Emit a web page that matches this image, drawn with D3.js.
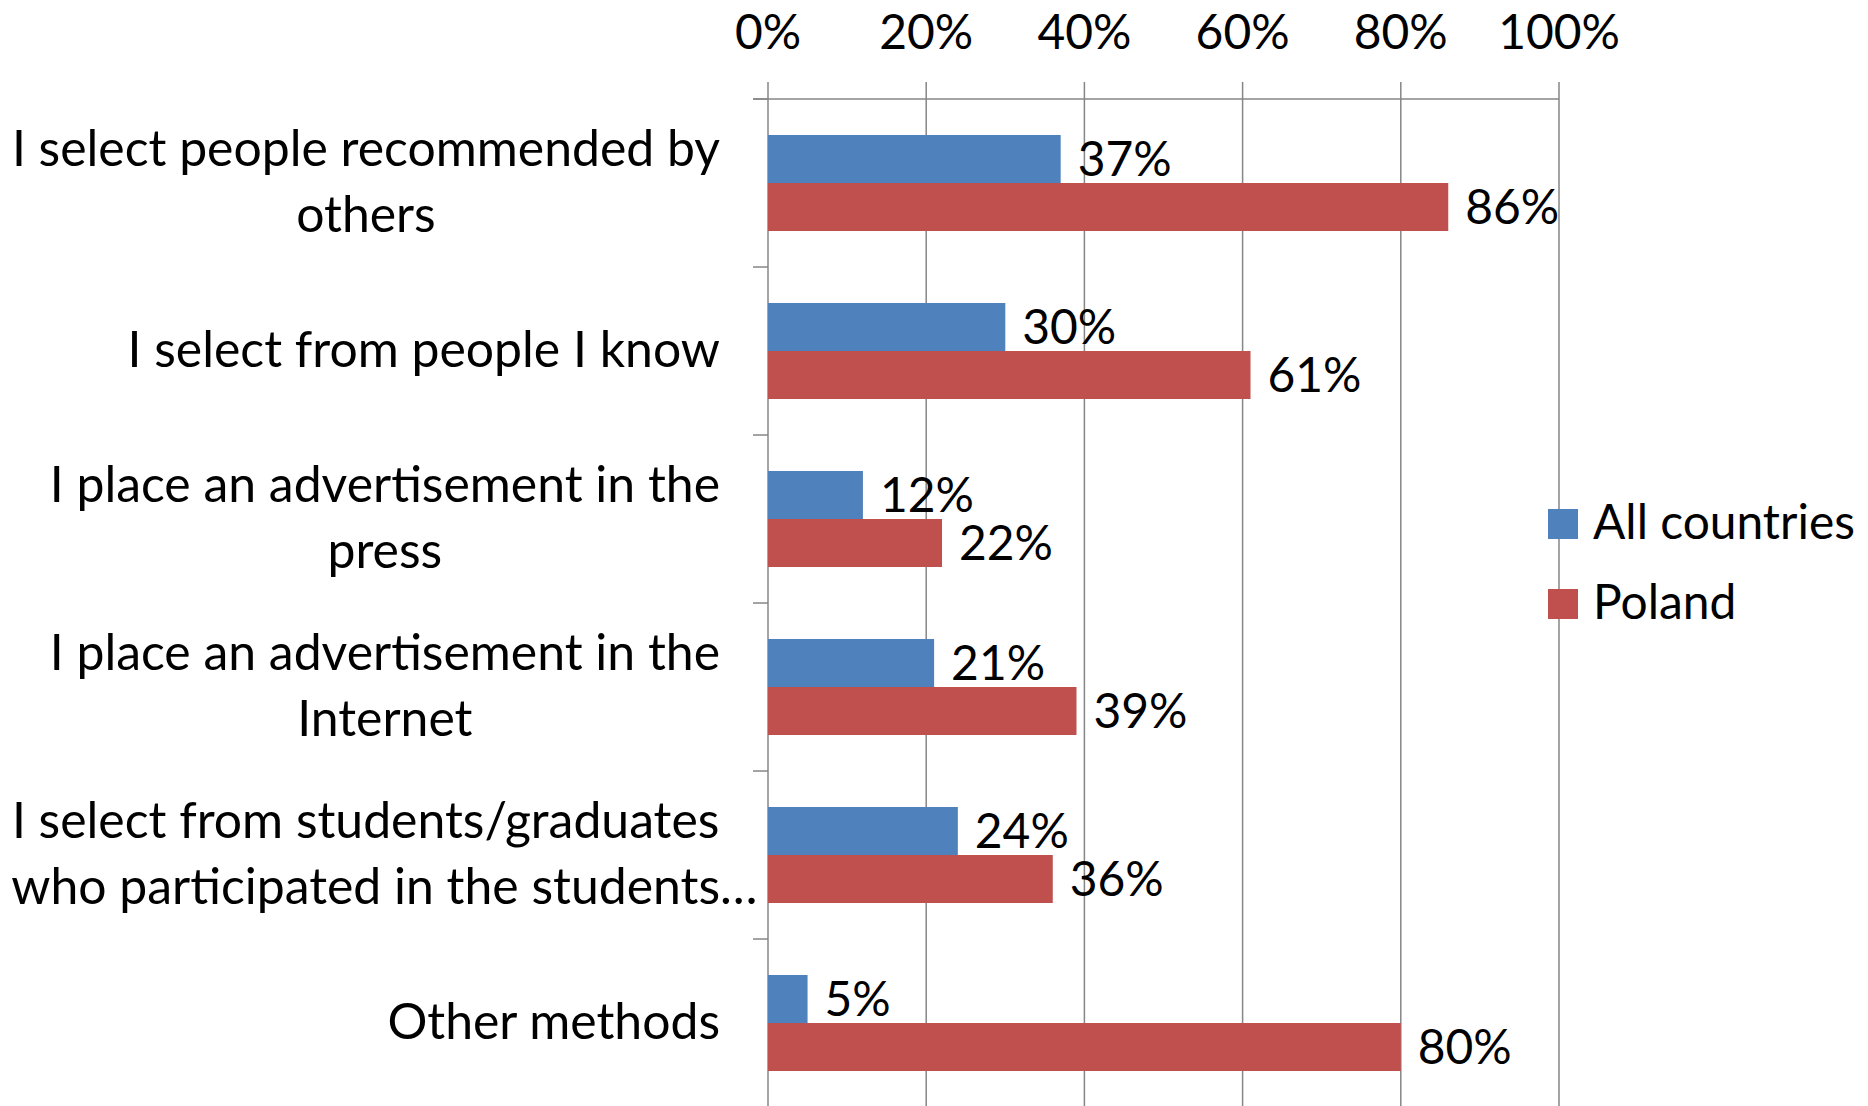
<!DOCTYPE html>
<html>
<head>
<meta charset="utf-8">
<script src="https://cdn.jsdelivr.net/npm/d3@7"></script>
<style>
  html, body { margin: 0; padding: 0; background: #fff; }
  svg { display: block; }
  text { font-family: Lato, "Open Sans", sans-serif; fill: #000; }
</style>
</head>
<body>
<svg id="chart" width="1868" height="1106"></svg>
<script>
// ---- data ----
const categories = [
  "I select people recommended by\nothers",
  "I select from people I know",
  "I place an advertisement in the\npress",
  "I place an advertisement in the\nInternet",
  "I select from students/graduates\nwho participated in the students…",
  "Other methods"
];
const seriesNames = ["All countries", "Poland"];
const allCountries = [37, 30, 12, 21, 24, 5];
const poland = [86, 61, 22, 39, 36, 80];
const tickValues = [0, 20, 40, 60, 80, 100];
const tickLabels = ["0%", "20%", "40%", "60%", "80%", "100%"];
const colors = ["#4F81BD", "#C0504D"];

// ---- layout ----
const W = 1868, H = 1106;
const plotLeft = 768, plotRight = 1559, plotTop = 99, plotBottom = 1107;
const svg = d3.select("#chart");

// font size fitted so the longest category line spans ~708px
const probe = svg.append("text").attr("font-size", 100).text("I select people recommended by");
const probeW = probe.node().getComputedTextLength();
probe.remove();
const fs = Math.round(100 * 708 / probeW * 10) / 10;
const fsNum = Math.round(fs * 0.96 * 10) / 10;

const x = d3.scaleLinear().domain([0, 100]).range([plotLeft, plotRight]);
const y = d3.scaleBand().domain(d3.range(categories.length))
  .range([plotTop, plotBottom]).paddingInner(0.4286).paddingOuter(0.2143);
const ySub = d3.scaleBand().domain([0, 1]).range([0, y.bandwidth()]);

const gridColor = "#868686";

// vertical gridlines
svg.append("g").selectAll("line").data(tickValues).join("line")
  .attr("x1", d => x(d)).attr("x2", d => x(d))
  .attr("y1", plotTop - 17).attr("y2", H)
  .attr("stroke", gridColor).attr("stroke-width", 1.5);

// top axis line + category ticks
svg.append("line").attr("x1", plotLeft - 15).attr("x2", plotRight)
  .attr("y1", plotTop).attr("y2", plotTop)
  .attr("stroke", gridColor).attr("stroke-width", 1.5);
const step = y.step();
svg.append("g").selectAll("line").data(d3.range(categories.length + 1)).join("line")
  .attr("x1", plotLeft - 15).attr("x2", plotLeft)
  .attr("y1", i => plotTop + i * step).attr("y2", i => plotTop + i * step)
  .attr("stroke", gridColor).attr("stroke-width", 1.5);

// tick labels
const tickBase = Math.max(46, Math.ceil(fsNum * 0.99) + 1);
svg.append("g").selectAll("text").data(tickValues).join("text")
  .attr("x", d => x(d)).attr("y", tickBase)
  .attr("text-anchor", "middle").attr("font-size", fsNum)
  .text((d, i) => tickLabels[i]);

// bars
const series = [allCountries, poland];
series.forEach((vals, s) => {
  const g = svg.append("g");
  g.selectAll("rect").data(vals).join("rect")
    .attr("x", x(0))
    .attr("y", (d, i) => y(i) + ySub(s))
    .attr("width", d => x(d) - x(0))
    .attr("height", ySub.bandwidth())
    .attr("fill", colors[s]);
  g.selectAll("text").data(vals).join("text")
    .attr("x", d => x(d) + 17)
    .attr("y", (d, i) => y(i) + ySub(s) + ySub.bandwidth() / 2 + 17)
    .attr("font-size", fsNum)
    .text(d => d + "%");
});

// category labels (block right-aligned, lines centered within block)
const labelRight = 720, lineH = 66;
categories.forEach((c, i) => {
  const lines = c.split("\n");
  const cy = y(i) + y.bandwidth() / 2;
  const widths = lines.map(l => {
    const t = svg.append("text").attr("font-size", fs).text(l.replace(/…$/, ""));
    const w = t.node().getComputedTextLength();
    t.remove();
    return w;
  });
  const bw = d3.max(widths);
  const center = labelRight - bw / 2;
  lines.forEach((l, k) => {
    svg.append("text")
      .attr("x", center - widths[k] / 2)
      .attr("y", cy + 16 + (k - (lines.length - 1) / 2) * lineH)
      .attr("font-size", fs)
      .text(l);
  });
});

// legend
const legend = svg.append("g");
seriesNames.forEach((n, i) => {
  legend.append("rect").attr("x", 1548).attr("y", 509 + i * 80)
    .attr("width", 30).attr("height", 30).attr("fill", colors[i]);
  legend.append("text").attr("x", 1593).attr("y", 539 + i * 80)
    .attr("font-size", fsNum).text(n);
});
</script>
</body>
</html>
